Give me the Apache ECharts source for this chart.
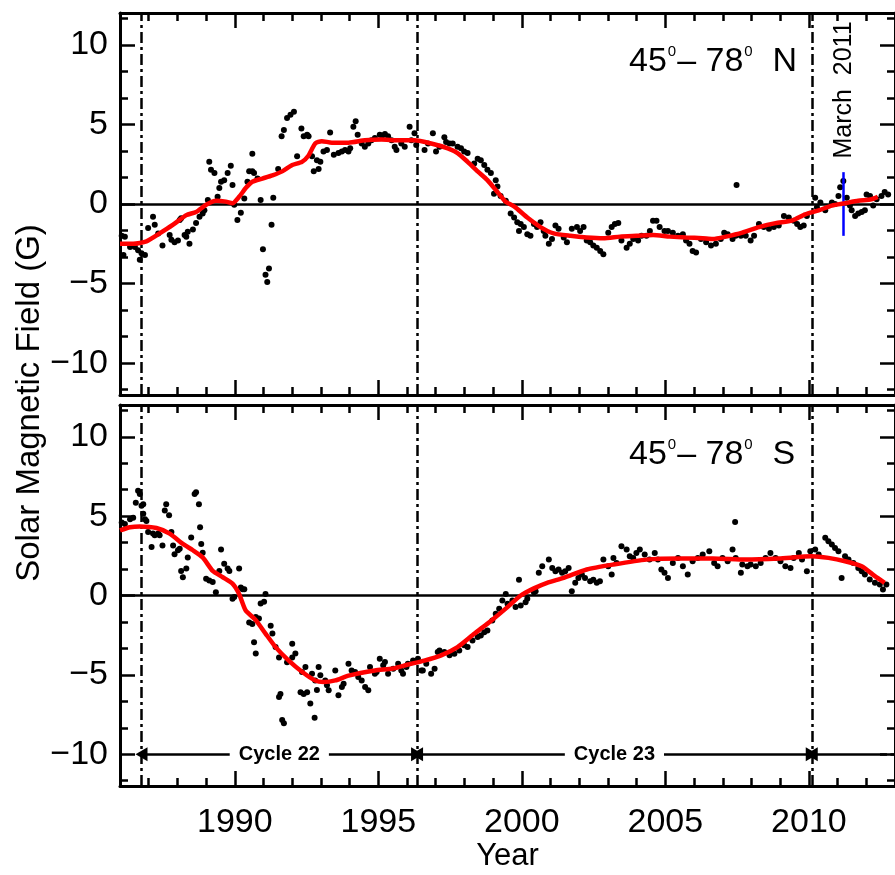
<!DOCTYPE html>
<html>
<head>
<meta charset="utf-8">
<script src="https://cdn.jsdelivr.net/npm/echarts@6/dist/echarts.min.js"></script>
<style>
  html, body { margin: 0; background: #fff; }
  #chart { width: 895px; height: 875px; }
</style>
</head>
<body>
<div id="chart"></div>
<script>
// axis ranges and ticks
const X_MIN = 1986, X_MAX = 2013, Y_MIN = -12, Y_MAX = 12;
const yearTicks = [1990, 1995, 2000, 2005, 2010];
const fieldTicks = [-10, -5, 0, 5, 10];
const fieldMinorTicks = [-11.667, -8.333, -6.667, -3.333, -1.667, 1.667, 3.333, 6.667, 8.333, 11.667];

// cycle boundaries (dash-dot lines) and the March 2011 marker
const cycleBounds = [1986.75, 1996.35, 2010.1];
const cycleNames = ['Cycle 22', 'Cycle 23'];
const marchYear = 2011.2;

// north polar field, 45-78 N: [year, G]
const northDots = [
  [1986.06,-2.0],[1986.12,-3.2],[1986.17,-2.05],[1986.35,-2.7],[1986.52,-2.7],[1986.63,-2.9],[1986.69,-3.5],
  [1986.75,-3.1],[1986.87,-3.2],[1986.98,-1.5],[1987.15,-0.8],[1987.21,-1.3],[1987.33,-1.85],[1987.48,-2.6],
  [1987.73,-1.95],[1987.79,-2.25],[1987.9,-2.4],[1988.02,-2.3],[1988.08,-1.0],[1988.13,-0.9],[1988.25,-1.95],
  [1988.31,-2.05],[1988.36,-1.75],[1988.42,-2.5],[1988.54,-1.6],[1988.65,-1.2],[1988.77,-0.8],[1988.88,-0.6],
  [1988.94,-0.4],[1989.06,0.25],[1989.11,2.65],[1989.17,2.15],[1989.29,1.95],[1989.4,0.45],[1989.46,1.0],
  [1989.52,1.4],[1989.63,1.5],[1989.75,1.95],[1989.86,2.4],[1989.92,1.2],[1989.98,-0.05],[1990.09,-1.0],
  [1990.21,-0.55],[1990.33,0.35],[1990.44,1.4],[1990.5,2.05],[1990.61,2.05],[1990.61,3.15],[1990.67,1.95],
  [1990.79,1.6],[1990.9,0.25],[1990.98,-2.85],[1991.07,-4.45],[1991.13,-4.9],[1991.19,-4.05],[1991.28,-1.3],
  [1991.34,0.4],[1991.51,2.2],[1991.63,4.25],[1991.71,4.65],[1991.82,5.4],[1991.94,5.6],[1992.06,5.8],
  [1992.17,3.0],[1992.32,4.75],[1992.4,4.25],[1992.52,4.35],[1992.57,4.25],[1992.69,3.0],[1992.75,2.05],
  [1992.86,2.75],[1992.92,2.2],[1992.98,2.65],[1993.09,3.3],[1993.21,3.4],[1993.32,4.5],[1993.45,3.1],
  [1993.61,3.2],[1993.73,3.3],[1993.84,3.4],[1993.96,3.3],[1994.02,3.5],[1994.13,4.85],[1994.21,5.2],
  [1994.28,4.35],[1994.42,3.8],[1994.53,3.6],[1994.65,3.8],[1994.76,4.0],[1994.88,4.15],[1995.05,4.35],
  [1995.14,4.3],[1995.23,4.4],[1995.34,4.25],[1995.46,4.0],[1995.57,3.6],[1995.63,3.4],[1995.8,3.8],
  [1995.92,3.6],[1996.09,4.85],[1996.15,4.0],[1996.26,4.45],[1996.32,3.7],[1996.61,3.4],[1996.73,3.8],
  [1996.9,4.45],[1997.01,3.3],[1997.13,3.6],[1997.3,4.2],[1997.36,3.9],[1997.48,3.8],[1997.59,3.8],
  [1997.76,3.6],[1997.88,3.5],[1997.99,3.3],[1998.11,3.2],[1998.34,2.55],[1998.46,2.85],[1998.57,2.75],
  [1998.69,2.45],[1998.8,2.15],[1998.92,1.95],[1999.03,0.65],[1999.09,1.5],[1999.15,1.1],[1999.26,0.5],
  [1999.44,0.2],[1999.61,-0.6],[1999.73,-0.85],[1999.84,-1.15],[1999.9,-1.7],[1999.96,-1.25],[2000.07,-1.45],
  [2000.19,-1.9],[2000.3,-2.0],[2000.42,-1.25],[2000.53,-1.45],[2000.65,-1.15],[2000.76,-1.7],[2000.82,-2.0],
  [2000.94,-2.5],[2001.05,-2.2],[2001.17,-1.35],[2001.28,-1.55],[2001.46,-2.1],[2001.57,-2.4],[2001.74,-1.55],
  [2001.92,-1.45],[2002.03,-1.7],[2002.15,-1.45],[2002.26,-2.3],[2002.38,-2.4],[2002.49,-2.6],[2002.61,-2.75],
  [2002.73,-2.95],[2002.84,-3.15],[2003.01,-1.8],[2003.13,-1.45],[2003.24,-1.25],[2003.36,-1.2],[2003.47,-2.3],
  [2003.65,-2.75],[2003.76,-2.5],[2003.88,-2.2],[2004.05,-2.3],[2004.17,-2.0],[2004.34,-2.0],[2004.46,-1.7],
  [2004.57,-1.05],[2004.69,-1.05],[2004.8,-1.45],[2004.97,-1.7],[2005.09,-1.7],[2005.26,-1.8],[2005.44,-2.0],
  [2005.61,-1.9],[2005.72,-2.3],[2005.84,-2.5],[2005.95,-2.95],[2006.07,-3.05],[2006.24,-2.2],[2006.42,-2.4],
  [2006.59,-2.6],[2006.76,-2.5],[2006.93,-2.2],[2007.05,-1.8],[2007.17,-1.9],[2007.34,-2.2],[2007.45,-2.0],
  [2007.48,1.2],[2007.63,-2.0],[2007.8,-2.0],[2007.97,-2.3],[2008.09,-2.0],[2008.26,-1.25],[2008.43,-1.45],
  [2008.61,-1.55],[2008.78,-1.45],[2008.95,-1.35],[2009.13,-0.75],[2009.3,-0.85],[2009.47,-1.05],[2009.59,-1.25],
  [2009.7,-1.45],[2009.82,-1.35],[2009.93,-0.75],[2010.22,0.4],[2010.28,-0.2],[2010.4,0.1],[2010.57,-0.4],
  [2010.8,0.1],[2010.91,0.0],[2011.03,0.5],[2011.09,1.05],[2011.2,1.45],[2011.32,0.4],[2011.43,-0.1],
  [2011.49,-0.4],[2011.61,-0.75],[2011.72,-0.6],[2011.84,-0.5],[2011.95,-0.4],[2012.01,0.6],[2012.13,0.5],
  [2012.24,-0.1],[2012.36,0.3],[2012.53,0.5],[2012.64,0.75],[2012.76,0.6]
];
const northSmooth = [
  [1986.0,-2.5],[1986.46,-2.5],[1986.92,-2.35],[1987.38,-1.85],[1987.85,-1.3],[1988.31,-0.7],[1988.65,-0.5],
  [1989.0,-0.05],[1989.34,0.2],[1989.69,0.15],[1989.92,0.05],[1990.15,0.45],[1990.38,1.0],[1990.61,1.4],
  [1990.96,1.6],[1991.31,1.8],[1991.65,2.05],[1992.0,2.45],[1992.34,2.65],[1992.57,3.05],[1992.8,3.8],
  [1993.03,3.95],[1993.38,3.85],[1993.96,3.85],[1994.53,4.0],[1995.11,4.05],[1995.69,4.0],[1996.26,4.0],
  [1996.84,3.8],[1997.42,3.5],[1997.76,3.2],[1998.11,2.65],[1998.46,2.05],[1998.8,1.5],[1999.15,0.75],
  [1999.43,0.15],[1999.73,-0.15],[2000.19,-0.85],[2000.65,-1.45],[2001.11,-1.85],[2001.69,-2.0],[2002.26,-2.1],
  [2002.84,-2.15],[2003.42,-2.05],[2004.0,-2.0],[2004.57,-1.95],[2005.15,-2.05],[2005.72,-2.1],[2006.3,-2.15],
  [2006.65,-2.2],[2007.11,-2.05],[2007.68,-1.8],[2008.26,-1.45],[2008.84,-1.2],[2009.41,-1.05],[2009.87,-0.65],
  [2010.34,-0.4],[2010.8,-0.1],[2011.26,0.05],[2011.72,0.2],[2012.18,0.3],[2012.4,0.45]
];

// south polar field, 45-78 S: [year, G]
const southDots = [
  [1986.06,4.6],[1986.17,4.5],[1986.35,4.8],[1986.46,4.9],[1986.55,5.85],[1986.63,6.6],[1986.69,6.4],
  [1986.75,5.65],[1986.81,5.75],[1986.81,5.15],[1986.87,4.8],[1986.92,4.7],[1986.98,4.0],[1987.1,3.05],
  [1987.15,3.9],[1987.21,3.8],[1987.33,3.9],[1987.38,3.8],[1987.48,3.15],[1987.56,5.35],[1987.61,5.75],
  [1987.71,5.05],[1987.79,4.0],[1987.85,3.15],[1987.9,2.6],[1988.02,2.85],[1988.08,2.95],[1988.13,1.55],
  [1988.19,1.15],[1988.31,1.7],[1988.36,2.4],[1988.48,3.65],[1988.6,6.4],[1988.65,6.5],[1988.75,5.75],
  [1988.79,4.3],[1988.83,3.25],[1988.88,2.7],[1989.0,1.05],[1989.11,0.95],[1989.23,0.85],[1989.34,0.2],
  [1989.46,1.55],[1989.52,2.9],[1989.63,2.0],[1989.75,1.7],[1989.81,1.55],[1989.92,-0.2],[1989.98,-0.1],
  [1990.15,1.7],[1990.21,0.5],[1990.27,0.4],[1990.33,0.4],[1990.5,-1.7],[1990.61,-1.8],[1990.67,-2.95],
  [1990.73,-3.65],[1990.73,-1.35],[1990.84,-1.45],[1990.9,-0.5],[1991.02,-0.4],[1991.07,0.1],[1991.25,-1.9],
  [1991.31,-2.4],[1991.42,-3.25],[1991.54,-3.9],[1991.54,-6.4],[1991.59,-6.2],[1991.65,-7.85],[1991.71,-8.05],
  [1991.82,-4.2],[1992.0,-3.9],[1992.0,-3.04],[1992.11,-3.65],[1992.29,-6.1],[1992.34,-4.82],[1992.4,-6.2],
  [1992.46,-4.5],[1992.52,-6.1],[1992.63,-6.8],[1992.69,-4.93],[1992.78,-7.7],[1992.8,-5.35],[1992.86,-5.95],
  [1992.92,-4.5],[1992.98,-5.03],[1993.15,-5.35],[1993.21,-5.66],[1993.27,-5.97],[1993.5,-4.72],[1993.61,-6.29],
  [1993.73,-5.77],[1993.79,-5.56],[1993.96,-4.3],[1994.07,-4.72],[1994.19,-4.82],[1994.3,-5.14],[1994.42,-5.35],
  [1994.54,-5.77],[1994.65,-5.97],[1994.71,-4.51],[1994.88,-4.93],[1994.94,-4.82],[1995.05,-3.98],[1995.17,-4.4],
  [1995.23,-4.19],[1995.34,-4.93],[1995.52,-4.61],[1995.69,-4.3],[1995.8,-4.72],[1995.86,-4.93],[1995.98,-4.51],
  [1996.03,-4.3],[1996.21,-4.09],[1996.38,-3.98],[1996.5,-4.72],[1996.55,-4.72],[1996.67,-4.3],[1996.84,-4.93],
  [1996.96,-4.61],[1997.07,-3.56],[1997.13,-3.46],[1997.3,-3.56],[1997.48,-3.77],[1997.65,-3.67],[1997.82,-3.46],
  [1997.99,-3.14],[1998.11,-3.25],[1998.28,-2.83],[1998.46,-2.62],[1998.57,-2.52],[1998.69,-2.31],[1998.8,-2.2],
  [1998.97,-1.57],[1999.09,-1.15],[1999.21,-0.84],[1999.32,-0.31],[1999.44,0.1],[1999.5,-0.52],[1999.67,-0.31],
  [1999.78,-0.73],[1999.9,1.0],[1999.96,-0.63],[2000.13,-0.42],[2000.19,-0.21],[2000.42,0.21],[2000.48,0.27],
  [2000.59,1.43],[2000.71,1.84],[2000.94,2.26],[2001.06,1.74],[2001.17,1.53],[2001.28,1.64],[2001.4,1.43],
  [2001.51,1.53],[2001.63,1.74],[2001.74,0.27],[2001.86,0.8],[2001.97,1.11],[2002.09,1.32],[2002.2,1.11],
  [2002.38,0.9],[2002.49,1.0],[2002.61,0.8],[2002.72,0.9],[2002.84,2.26],[2003.01,1.84],[2003.13,1.32],
  [2003.19,2.37],[2003.3,2.05],[2003.47,3.1],[2003.65,2.89],[2003.76,2.47],[2003.88,2.37],[2003.99,2.68],
  [2004.11,2.89],[2004.28,2.58],[2004.45,2.26],[2004.63,2.68],[2004.74,2.26],[2004.86,1.64],[2004.97,1.43],
  [2005.09,1.11],[2005.26,2.05],[2005.44,2.37],[2005.61,1.84],[2005.78,1.32],[2005.95,2.16],[2006.13,2.37],
  [2006.3,2.58],[2006.53,2.79],[2006.7,2.05],[2006.82,1.84],[2006.99,2.37],[2007.17,2.16],[2007.34,2.89],
  [2007.43,4.63],[2007.45,2.37],[2007.63,1.43],[2007.68,1.95],[2007.86,1.84],[2007.97,1.95],[2008.15,1.84],
  [2008.32,2.05],[2008.49,2.37],[2008.66,2.68],[2008.84,2.37],[2009.01,2.16],[2009.18,1.84],[2009.36,1.74],
  [2009.47,2.37],[2009.65,2.68],[2009.76,2.26],[2009.93,1.53],[2010.05,2.79],[2010.22,2.89],[2010.34,2.58],
  [2010.57,3.63],[2010.68,3.42],[2010.8,3.21],[2010.91,3.0],[2011.03,2.79],[2011.14,1.11],[2011.26,2.47],
  [2011.38,2.26],[2011.55,2.05],[2011.72,1.74],[2011.84,1.53],[2011.95,1.32],[2012.12,1.01],[2012.3,0.8],
  [2012.47,0.69],[2012.58,0.38],[2012.7,0.69]
];
const southSmooth = [
  [1986.0,4.1],[1986.35,4.3],[1986.69,4.35],[1987.27,4.25],[1987.73,3.9],[1988.19,3.25],[1988.54,2.85],
  [1988.88,2.4],[1989.23,1.55],[1989.58,1.15],[1989.92,0.75],[1990.15,0.1],[1990.38,-0.95],[1990.73,-1.55],
  [1991.07,-2.4],[1991.42,-3.25],[1991.88,-4.1],[1992.34,-4.8],[1992.8,-5.35],[1993.09,-5.45],[1993.5,-5.35],
  [1993.96,-5.05],[1994.88,-4.72],[1995.5,-4.6],[1996.03,-4.35],[1996.6,-4.1],[1997.19,-3.77],[1997.76,-3.25],
  [1998.34,-2.41],[1998.92,-1.6],[1999.5,-0.73],[1999.96,0.0],[2000.42,0.45],[2000.88,0.8],[2001.46,1.11],
  [2002.26,1.64],[2003.19,1.95],[2004.34,2.26],[2005.49,2.33],[2006.65,2.33],[2007.8,2.26],[2008.95,2.33],
  [2010.1,2.47],[2010.68,2.37],[2011.26,2.16],[2011.84,1.84],[2012.3,1.22],[2012.64,0.8]
];

const FONT = 'Liberation Sans';
const BLACK = '#000';

const chart = echarts.init(document.getElementById('chart'));

// panel rectangles: 0 top, 1 bottom; grids 2 and 3 repeat them for the minor ticks
const panels = [
  { left: 120, top: 13, width: 783, height: 382 },
  { left: 120, top: 405, width: 783, height: 381 }
];

function xAxisFor(gridIndex, position, major, extra) {
  return Object.assign({
    type: 'value', gridIndex, position, min: X_MIN, max: X_MAX,
    interval: major ? undefined : 1,
    axisLine: { show: major, onZero: false, lineStyle: { color: BLACK, width: 3 } },
    axisTick: { inside: true, length: major ? 15 : 8, customValues: major ? yearTicks : undefined,
                lineStyle: { color: BLACK, width: 2.5 } },
    axisLabel: { show: false },
    splitLine: { show: false }
  }, extra || {});
}

function yAxisFor(gridIndex, position, major, extra) {
  return Object.assign({
    type: 'value', gridIndex, position, min: Y_MIN, max: Y_MAX,
    axisLine: { show: major, onZero: false, lineStyle: { color: BLACK, width: 3 } },
    axisTick: { inside: true, length: major ? 15 : 8, customValues: major ? fieldTicks : fieldMinorTicks,
                lineStyle: { color: BLACK, width: 2.5 } },
    axisLabel: { show: false },
    splitLine: { show: false }
  }, extra || {});
}

const yearLabel = {
  show: true, customValues: yearTicks, margin: 20,
  fontFamily: FONT, fontSize: 34, color: BLACK,
  formatter: v => String(v)
};
const fieldLabel = {
  show: true, customValues: fieldTicks, margin: 12,
  fontFamily: FONT, fontSize: 34, color: BLACK,
  formatter: v => (v < 0 ? '\u2212' + (-v) : String(v))
};

function panelTitle(hemi, top) {
  return {
    type: 'text', left: 629, top: top, z: 20,
    style: {
      text: '{n|45}{s|0}{n|\u2013 78}{s|0}{n|  ' + hemi + '}',
      rich: {
        n: { fontFamily: FONT, fontSize: 34, fill: BLACK, lineHeight: 36 },
        s: { fontFamily: FONT, fontSize: 15, fill: BLACK, verticalAlign: 'top', padding: [0, 1, 0, 1] }
      }
    }
  };
}

const dashDot = { color: BLACK, width: 2.5, type: [11, 4, 3, 4] };
const zeroLine = { color: BLACK, width: 2.5, type: 'solid' };

function boundLines() {
  return cycleBounds.map(b => ({ xAxis: b, lineStyle: dashDot }));
}

const arrowEnd = { symbol: 'triangle', symbolSize: [14, 12] };
const cycleArrows = [
  [Object.assign({ coord: [cycleBounds[0], -10] }, arrowEnd), Object.assign({ coord: [cycleBounds[1], -10] }, arrowEnd)],
  [Object.assign({ coord: [cycleBounds[1], -10] }, arrowEnd), Object.assign({ coord: [cycleBounds[2], -10] }, arrowEnd)],
  [Object.assign({ coord: [cycleBounds[2], -10] }, arrowEnd), { coord: [2012.72, -10], symbol: 'none' }],
  [{ coord: [2012.84, -10], symbol: 'none' }, { coord: [X_MAX, -10], symbol: 'none' }]
];
const cycleLabels = cycleNames.map((name, i) => [(cycleBounds[i] + cycleBounds[i + 1]) / 2, -10, name]);

const markBase = {
  silent: true, animation: false, symbol: ['none', 'none'],
  label: { show: false }, emphasis: { disabled: true }
};

const option = {
  animation: false,
  backgroundColor: '#fff',
  textStyle: { fontFamily: FONT },
  grid: [
    Object.assign({}, panels[0]), Object.assign({}, panels[1]),
    Object.assign({}, panels[0]), Object.assign({}, panels[1])
  ],
  xAxis: [
    xAxisFor(0, 'bottom', true),
    xAxisFor(0, 'top', true),
    xAxisFor(1, 'bottom', true, {
      axisLabel: yearLabel,
      name: 'Year', nameLocation: 'middle', nameGap: 55,
      nameTextStyle: { fontFamily: FONT, fontSize: 31, color: BLACK }
    }),
    xAxisFor(1, 'top', true),
    xAxisFor(2, 'bottom', false),
    xAxisFor(2, 'top', false),
    xAxisFor(3, 'bottom', false),
    xAxisFor(3, 'top', false)
  ],
  yAxis: [
    yAxisFor(0, 'left', true, { axisLabel: fieldLabel }),
    yAxisFor(0, 'right', true),
    yAxisFor(1, 'left', true, { axisLabel: fieldLabel }),
    yAxisFor(1, 'right', true),
    yAxisFor(2, 'left', false),
    yAxisFor(2, 'right', false),
    yAxisFor(3, 'left', false),
    yAxisFor(3, 'right', false)
  ],
  graphic: [
    panelTitle('N', 44),
    panelTitle('S', 437),
    {
      type: 'text', x: 844, y: 90, rotation: Math.PI / 2, z: 20,
      style: { text: 'March  2011', fontFamily: FONT, fontSize: 25, fill: BLACK,
               align: 'center', verticalAlign: 'middle' }
    },
    {
      type: 'text', x: 30, y: 403, rotation: Math.PI / 2, z: 20,
      style: { text: 'Solar Magnetic Field (G)', fontFamily: FONT, fontSize: 33, fill: BLACK,
               align: 'center', verticalAlign: 'middle' }
    }
  ],
  series: [
    {
      type: 'scatter', xAxisIndex: 0, yAxisIndex: 0, data: northDots,
      symbolSize: 6, itemStyle: { color: BLACK, opacity: 1 }, z: 3,
      markLine: Object.assign({}, markBase, {
        data: [{ yAxis: 0, lineStyle: zeroLine }].concat(boundLines()).concat([
          [{ coord: [marchYear, -2] }, { coord: [marchYear, 2], lineStyle: { color: '#0000ff', width: 2.5, type: 'solid' } }]
        ])
      })
    },
    {
      type: 'line', xAxisIndex: 0, yAxisIndex: 0, data: northSmooth,
      symbol: 'none', smooth: 0.2, lineStyle: { color: '#ff0000', width: 4.5 }, z: 5
    },
    {
      type: 'scatter', xAxisIndex: 2, yAxisIndex: 2, data: southDots,
      symbolSize: 6, itemStyle: { color: BLACK, opacity: 1 }, z: 3,
      markLine: Object.assign({}, markBase, {
        data: [{ yAxis: 0, lineStyle: zeroLine }].concat(boundLines()).concat(
          cycleArrows.map(seg => [seg[0], Object.assign({ lineStyle: { color: BLACK, width: 2.5, type: 'solid' } }, seg[1])])
        )
      })
    },
    {
      type: 'line', xAxisIndex: 2, yAxisIndex: 2, data: southSmooth,
      symbol: 'none', smooth: 0.2, lineStyle: { color: '#ff0000', width: 4.5 }, z: 5
    },
    {
      type: 'scatter', xAxisIndex: 2, yAxisIndex: 2, data: cycleLabels,
      symbolSize: 0, silent: true, z: 10, itemStyle: { opacity: 1 },
      label: {
        show: true, position: 'inside', formatter: p => p.value[2],
        fontFamily: FONT, fontWeight: 'bold', fontSize: 20, color: BLACK, opacity: 1,
        backgroundColor: '#fff', padding: [1, 9]
      }
    }
  ]
};

chart.setOption(option);
</script>
</body>
</html>
